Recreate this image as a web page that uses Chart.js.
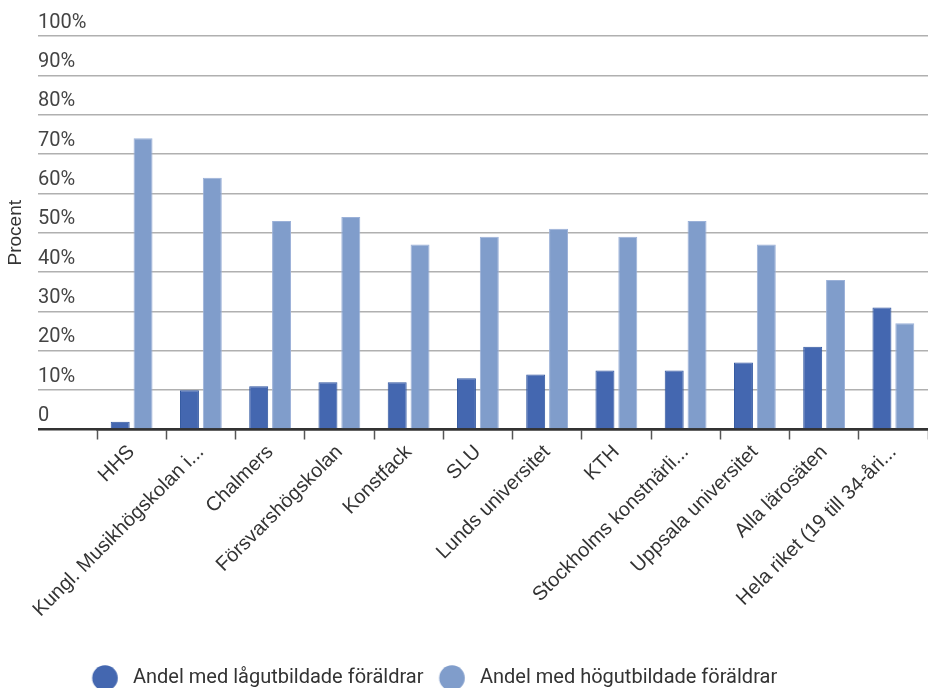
<!DOCTYPE html>
<html>
<head>
<meta charset="utf-8">
<script src="https://cdn.jsdelivr.net/npm/chart.js@4/dist/chart.umd.min.js"></script>
<style>
  html, body { margin: 0; padding: 0; background: #ffffff; }
  #wrap { position: relative; width: 928px; height: 688px; }
</style>
</head>
<body>
<div id="wrap"><canvas id="c"></canvas></div>
<script>
const categories = ['HHS', 'Kungl. Musikhögskolan i...', 'Chalmers', 'Försvarshögskolan', 'Konstfack', 'SLU', 'Lunds universitet', 'KTH', 'Stockholms konstnärli...', 'Uppsala universitet', 'Alla lärosäten', 'Hela riket (19 till 34-åri...'];
const seriesNames = ['Andel med lågutbildade föräldrar', 'Andel med högutbildade föräldrar'];
const lowEducated = [2, 10, 11, 12, 12, 13, 14, 15, 15, 17, 21, 31];
const highEducated = [74, 64, 53, 54, 47, 49, 51, 49, 53, 47, 38, 27];
const yTicks = [0, 10, 20, 30, 40, 50, 60, 70, 80, 90, 100];

const darkBlue = '#4467b0';
const lightBlue = '#809dcb';

// legend geometry (measured text so that items sit where the reference has them)
const legendFontSize = 20;
const mctx = document.createElement('canvas').getContext('2d');
mctx.font = legendFontSize + 'px Roboto';
const tw1 = mctx.measureText(seriesNames[0]).width;
const tw2 = mctx.measureText(seriesNames[1]).width;
const legendPad = 30;
const legendBox = 16.5;
const leftPad = tw1 + tw2 + legendPad - 662;

function makeDot(color) {
  const cv = document.createElement('canvas');
  cv.width = 60; cv.height = 28;
  const g = cv.getContext('2d');
  g.fillStyle = color;
  g.beginPath();
  g.arc(30 + legendBox / 2 - 18, 14, 12.8, 0, Math.PI * 2);
  g.fill();
  return cv;
}
const dots = [makeDot(darkBlue), makeDot(lightBlue)];

new Chart(document.getElementById('c'), {
  type: 'bar',
  data: {
    labels: categories,
    datasets: [
      {
        label: seriesNames[0],
        data: lowEducated,
        backgroundColor: darkBlue,
        borderColor: '#30569f',
        borderWidth: 1,
        categoryPercentage: 0.66,
        barPercentage: 0.83
      },
      {
        label: seriesNames[1],
        data: highEducated,
        backgroundColor: lightBlue,
        borderColor: '#9bb1d8',
        borderWidth: 1,
        categoryPercentage: 0.66,
        barPercentage: 0.83
      }
    ]
  },
  options: {
    responsive: true,
    maintainAspectRatio: false,
    animation: false,
    devicePixelRatio: 1,
    layout: { padding: { top: 36, left: leftPad, right: 0, bottom: -10 } },
    plugins: {
      tooltip: { enabled: false },
      legend: {
        position: 'bottom',
        align: 'center',
        labels: {
          usePointStyle: true,
          boxWidth: legendBox,
          padding: legendPad,
          color: '#333333',
          font: { family: 'Roboto', size: legendFontSize },
          generateLabels: (chart) => {
            const items = Chart.defaults.plugins.legend.labels.generateLabels(chart);
            items.forEach((it, i) => { it.pointStyle = dots[i]; });
            return items;
          }
        }
      }
    },
    scales: {
      x: {
        afterFit: (axis) => { axis.height = 238.5 - legendPad; },
        grid: {
          display: true,
          drawOnChartArea: false,
          drawTicks: true,
          tickLength: 10,
          tickColor: '#555555',
          tickWidth: 1.5,
          offset: true
        },
        border: { display: true, color: '#333333', width: 2.5 },
        ticks: {
          autoSkip: false,
          maxRotation: 45,
          minRotation: 45,
          padding: 1,
          color: '#333333',
          font: { family: 'Liberation Sans', size: 20 }
        }
      },
      y: {
        min: 0,
        max: 100,
        afterFit: (axis) => { axis.width = 97 - leftPad; },
        afterBuildTicks: (axis) => { axis.ticks = yTicks.map(v => ({ value: v })); },
        border: { display: false },
        grid: {
          drawTicks: true,
          tickLength: 59,
          color: (ctx) => ctx.tick && ctx.tick.value === 0 ? '#333333' : '#b0b0b0',
          lineWidth: (ctx) => ctx.tick && ctx.tick.value === 0 ? 2.5 : 1.5
        },
        ticks: {
          mirror: true,
          padding: -59,
          labelOffset: -13.5,
          color: '#444444',
          font: { family: 'Roboto', size: 20 },
          callback: (v) => v === 0 ? '0' : v + '%'
        },
        title: {
          display: true,
          text: 'Procent',
          color: '#333333',
          font: { family: 'Liberation Sans', size: 19 },
          padding: { top: 15.5 - 11.4 - leftPad, bottom: 0 }
        }
      }
    }
  }
});
</script>
</body>
</html>
